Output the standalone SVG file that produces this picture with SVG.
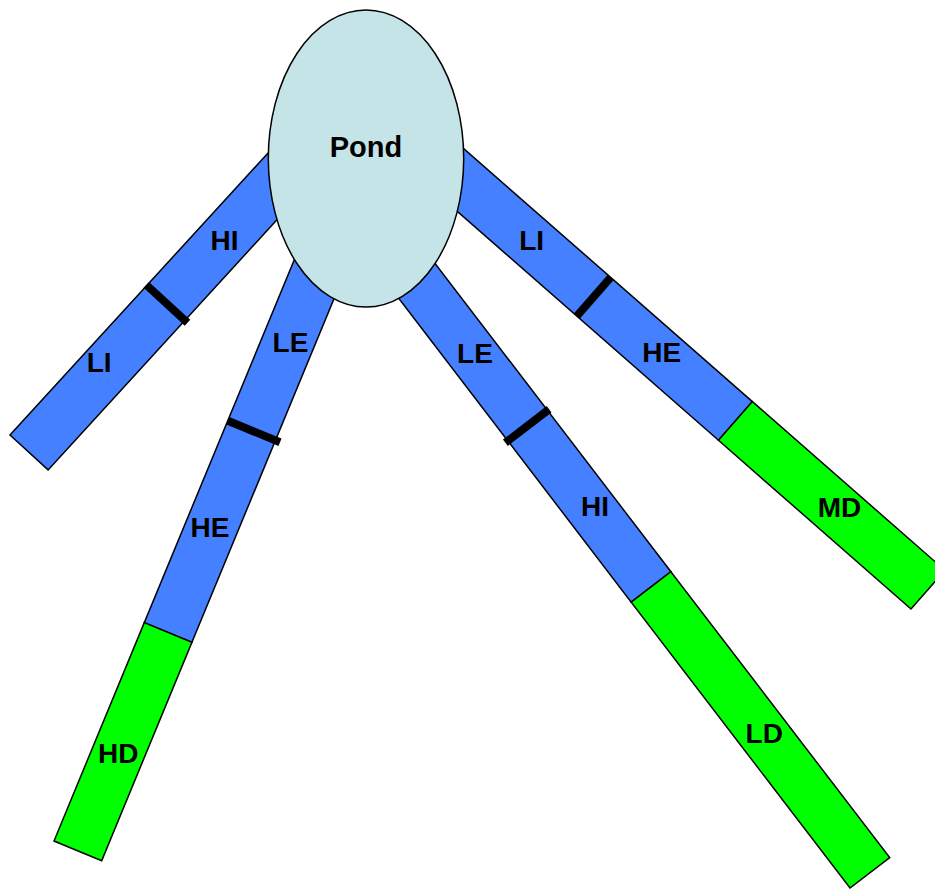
<svg xmlns="http://www.w3.org/2000/svg" width="935" height="890" viewBox="0 0 935 890">
<style>
.blue{fill:#4480FF;stroke:#000;stroke-width:1.5;stroke-linejoin:miter}
.green{fill:#00FF00;stroke:#000;stroke-width:1.5}
.div{stroke:#000;stroke-width:8;stroke-linecap:butt}
.lbl{font-family:"Liberation Sans",Arial,sans-serif;font-weight:bold;font-size:28px;text-anchor:middle;fill:#000}
</style>
<rect width="935" height="890" fill="#fff"/>
<g id="connectors">
<g id="stream-left">
<polygon class="blue" points="300.3,117.7 338.4,152.6 48.1,469.9 10,435"/>
<line class="div" x1="146.3" y1="284.9" x2="187.5" y2="322.7"/>
</g>
<g id="stream-lower-left">
<polygon class="blue" points="329.1,175.6 376.8,195.3 191.9,642.3 144.3,622.6"/>
<polygon class="green" points="144.3,622.6 191.9,642.3 101.7,860.7 54,841"/>
<line class="div" x1="227.8" y1="420.7" x2="280" y2="442.3"/>
</g>
<g id="stream-lower-right">
<polygon class="blue" points="327.1,204.7 366.8,174.3 670.9,571.7 631.2,602.1"/>
<polygon class="green" points="631.2,602.1 670.9,571.7 889.7,857.6 850,888"/>
<line class="div" x1="505.4" y1="442.7" x2="549.1" y2="409.3"/>
</g>
<g id="stream-right">
<polygon class="blue" points="382.8,146.1 416.7,107.4 752.4,401.6 718.5,440.3"/>
<polygon class="green" points="718.5,440.3 752.4,401.6 944.9,570.3 911,609"/>
<line class="div" x1="576.8" y1="316.1" x2="610.7" y2="277.4"/>
</g>
</g>
<g id="pond">
<ellipse cx="366" cy="158.5" rx="97.7" ry="148.5" fill="#C5E4E8" stroke="#000" stroke-width="1.5"/>
<text class="lbl" x="366" y="157" style="font-size:29px">Pond</text>
</g>
<g id="labels">
<text class="lbl" x="224.5" y="250">HI</text>
<text class="lbl" x="99.2" y="372">LI</text>
<text class="lbl" x="290.5" y="352">LE</text>
<text class="lbl" x="210" y="537">HE</text>
<text class="lbl" x="118.2" y="763">HD</text>
<text class="lbl" x="475" y="363">LE</text>
<text class="lbl" x="595" y="516">HI</text>
<text class="lbl" x="764.2" y="743">LD</text>
<text class="lbl" x="531.7" y="250">LI</text>
<text class="lbl" x="661.7" y="362">HE</text>
<text class="lbl" x="839.5" y="517">MD</text>
</g>
</svg>
